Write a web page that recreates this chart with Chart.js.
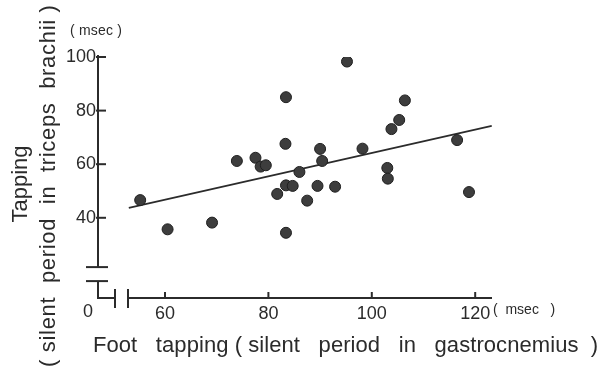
<!DOCTYPE html>
<html><head><meta charset="utf-8">
<script src="https://cdn.jsdelivr.net/npm/chart.js@4/dist/chart.umd.min.js"></script>
<style>html,body{margin:0;padding:0;background:#fff}</style>
</head><body>
<canvas id="c" width="600" height="374"></canvas>
<script>
// Foot tapping (silent period in gastrocnemius), msec
const footTapping = [55.2, 60.5, 69.1, 73.9, 77.5, 78.5, 79.5, 83.4, 83.3, 86.0, 81.7, 83.4, 84.7, 87.5, 83.4, 89.5, 90.0, 90.4, 92.9, 95.2, 98.2, 106.4, 105.3, 103.8, 103.0, 103.1, 116.5, 118.8];
// Tapping (silent period in triceps brachii), msec
const armTapping = [46.6, 35.7, 38.2, 61.2, 62.4, 59.1, 59.6, 85.0, 67.6, 57.1, 48.9, 52.1, 51.9, 46.4, 34.4, 51.9, 65.7, 61.2, 51.6, 98.3, 65.8, 83.8, 76.5, 73.1, 58.6, 54.6, 69.0, 49.6];
// regression line end points
const fitX = [53.0, 123.2];
const fitY = [43.7, 74.3];
const xTicks = [60, 80, 100, 120];
const yTicks = [40, 60, 80, 100];
const yBreakValue = 21.6;
const xTitle = 'Foot   tapping ( silent   period   in   gastrocnemius  )';
const yTitle = ['Tapping', '( silent  period  in  triceps  brachii )'];
const unitText = '( msec )';

const INK = '#2b2b2b';
const numFont = "'Liberation Sans', Arial, sans-serif";
const txtFont = "'Liberation Sans', Arial, sans-serif";

function seg(ctx, x1, y1, x2, y2) { ctx.beginPath(); ctx.moveTo(x1, y1); ctx.lineTo(x2, y2); ctx.stroke(); }
// draw text stretched to a given length using letter spacing
function fitText(ctx, str, x, y, len) {
  ctx.letterSpacing = '0px';
  const w = ctx.measureText(str).width;
  const ls = Math.max(0, (len - w) / Math.max(1, str.length - 1));
  ctx.letterSpacing = ls.toFixed(2) + 'px';
  ctx.fillText(str, x, y);
  ctx.letterSpacing = '0px';
}

const axisPlugin = {
  id: 'brokenAxes',
  afterDraw(chart) {
    const { ctx, scales: { x, y } } = chart;
    const X0 = x.left;
    const AY = y.bottom;
    const yTop = y.getPixelForValue(100) - 2;
    const yB = y.getPixelForValue(yBreakValue);
    ctx.save();
    ctx.strokeStyle = INK; ctx.lineWidth = 2;
    seg(ctx, X0, yTop, X0, yB);
    seg(ctx, X0 - 12, yB, X0 + 10, yB);
    seg(ctx, X0 - 12, yB + 14, X0 + 10, yB + 14);
    seg(ctx, X0, yB + 14, X0, AY + 1);
    seg(ctx, X0 - 1, AY, X0 + 16, AY);
    seg(ctx, X0 + 17, AY - 9, X0 + 17, AY + 10);
    seg(ctx, X0 + 30, AY - 9, X0 + 30, AY + 10);
    seg(ctx, X0 + 30, AY, x.right, AY);
    yTicks.forEach(v => { const p = y.getPixelForValue(v); seg(ctx, X0 - 2, p, X0 + 8, p); });
    xTicks.forEach(v => { const p = x.getPixelForValue(v); seg(ctx, p, AY - 6, p, AY); });

    ctx.fillStyle = INK;
    ctx.textBaseline = 'middle';
    ctx.font = "18px " + numFont;
    ctx.textAlign = 'center';
    ctx.fillText('0', X0 - 10, AY + 14);

    ctx.font = "14px " + txtFont;
    ctx.textAlign = 'left';
    fitText(ctx, unitText, X0 - 28, yTop - 24, 52);
    ctx.fillText('(  msec   )', x.right + 1, AY + 12);

    // x axis title
    ctx.font = "22px " + txtFont;
    ctx.textAlign = 'left';
    ctx.textBaseline = 'alphabetic';
    fitText(ctx, xTitle, X0 - 5, 352, 505);

    // y axis title (two rotated lines)
    ctx.textAlign = 'center';
    ctx.textBaseline = 'middle';
    ctx.save();
    ctx.translate(21, 184);
    ctx.rotate(-Math.PI / 2);
    ctx.fillText(yTitle[0], 0, 0);
    ctx.restore();
    ctx.save();
    ctx.translate(49, 186);
    ctx.rotate(-Math.PI / 2);
    ctx.textAlign = 'left';
    fitText(ctx, yTitle[1], -181, 0, 362);
    ctx.restore();
    ctx.restore();
  }
};

new Chart(document.getElementById('c'), {
  type: 'scatter',
  data: {
    datasets: [
      {
        label: 'subjects',
        data: footTapping.map((v, i) => ({ x: v, y: armTapping[i] })),
        backgroundColor: '#3d3d3d', borderColor: '#1f1f1f', borderWidth: 1,
        pointRadius: 5.5, order: 0
      },
      {
        label: 'regression',
        type: 'line',
        data: fitX.map((v, i) => ({ x: v, y: fitY[i] })),
        borderColor: INK, borderWidth: 1.6, pointRadius: 0, fill: false, order: 1
      }
    ]
  },
  options: {
    responsive: false, animation: false, events: [],
    layout: { padding: { left: 0, top: 57, right: 108, bottom: 0 } },
    plugins: { legend: { display: false }, tooltip: { enabled: false } },
    scales: {
      x: {
        type: 'linear', min: 47.04, max: 123.25,
        afterBuildTicks: s => { s.ticks = xTicks.map(v => ({ value: v })); },
        afterFit: s => { s.height = 76; },
        grid: { display: false, drawTicks: false }, border: { display: false },
        ticks: { padding: 5, color: INK, maxRotation: 0, autoSkip: false, font: { family: numFont, size: 18 } },
        title: { display: false }
      },
      y: {
        type: 'linear', min: 10.07, max: 100,
        afterBuildTicks: s => { s.ticks = yTicks.map(v => ({ value: v })); },
        afterFit: s => { s.width = 98; },
        grid: { display: false, drawTicks: false }, border: { display: false },
        ticks: { padding: 2, color: INK, autoSkip: false, font: { family: numFont, size: 18 } },
        title: { display: false }
      }
    }
  },
  plugins: [axisPlugin]
});
</script>
</body></html>
